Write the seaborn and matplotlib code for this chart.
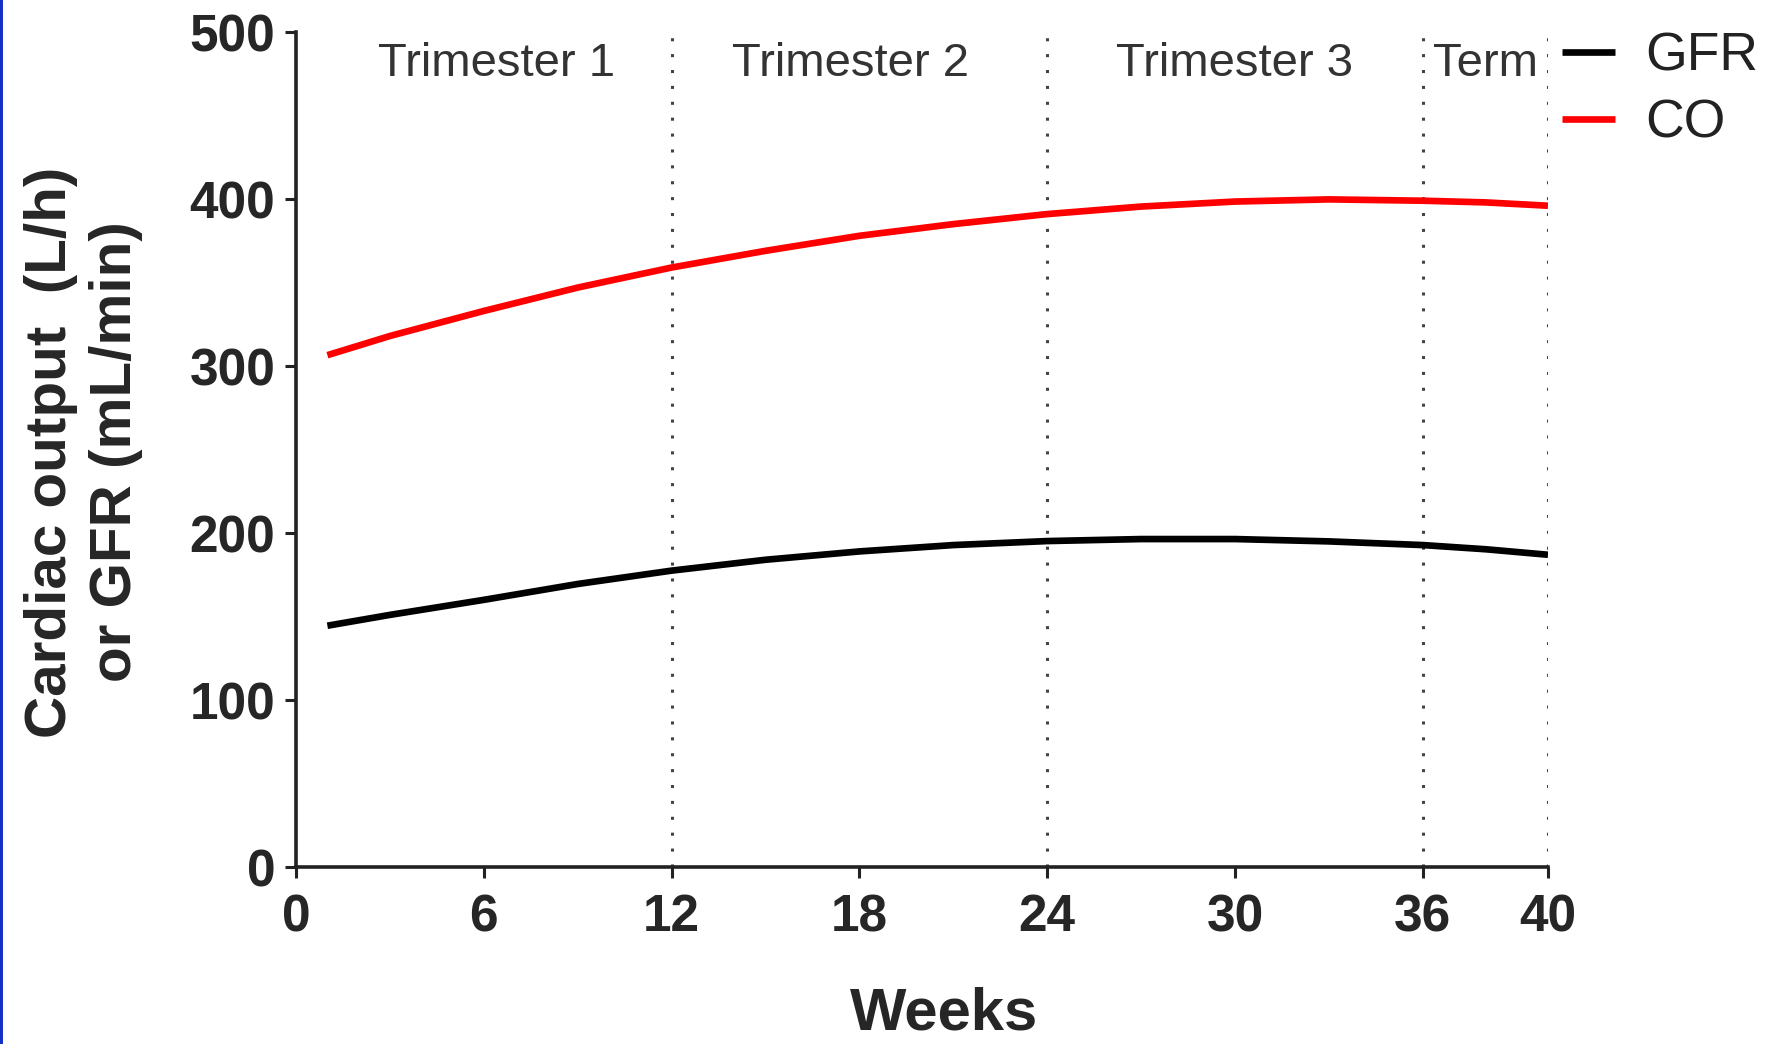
import matplotlib
matplotlib.use("Agg")
import matplotlib.pyplot as plt
import seaborn as sns
import pandas as pd
from matplotlib.patches import Rectangle

# ---- data ----
weeks = [1, 3, 6, 9, 12, 15, 18, 21, 24, 27, 30, 33, 36, 38, 40]
gfr = [144.5, 151, 160, 169.5, 177.5, 184, 189, 192.8, 195.2, 196.4, 196.4, 195, 192.8, 190.3, 187]
co = [306.5, 318, 333, 347, 359, 369, 378, 385, 391, 395.5, 398.5, 399.8, 399, 398, 396]
series_names = ["GFR", "CO"]
series_colors = ["#000000", "#ff0000"]
x_ticks = [0, 6, 12, 18, 24, 30, 36, 40]
y_ticks = [0, 100, 200, 300, 400, 500]
boundaries = [12, 24, 36, 40]
period_labels = ["Trimester 1", "Trimester 2", "Trimester 3", "Term"]
period_x = [6.4, 17.7, 30.0, 38.0]

df = pd.DataFrame({
    "Weeks": weeks * 2,
    "value": gfr + co,
    "series": [series_names[0]] * len(weeks) + [series_names[1]] * len(weeks),
})

sns.set_theme(style="ticks")
plt.rcParams["font.family"] = ["Liberation Sans", "DejaVu Sans"]

fig = plt.figure(figsize=(17.73, 10.44), dpi=100)
ax = fig.add_axes([0.1670, 0.1695, 0.8731 - 0.1670, 0.9693 - 0.1695])

sns.lineplot(data=df, x="Weeks", y="value", hue="series", hue_order=series_names,
             palette=dict(zip(series_names, series_colors)), linewidth=4.8,
             ax=ax, legend=True)
for ln in ax.get_lines():
    ln.set_solid_capstyle("butt")
    ln.set_solid_joinstyle("round")

for b in boundaries:
    ax.vlines(b, 0, 500, colors="#444444", linewidth=2.2,
              linestyles=(0, (1, 4.2)), zorder=1)

for lab, xp in zip(period_labels, period_x):
    ax.text(xp, 481, lab, ha="center", va="center", fontsize=34, color="#333333")

ax.set_xlim(0, 40)
ax.set_ylim(0, 500)
ax.set_xticks(x_ticks)
ax.set_yticks(y_ticks)
ax.set_xticklabels([str(t) for t in x_ticks], fontsize=37, fontweight="bold")
ax.set_yticklabels([str(t) for t in y_ticks], fontsize=37, fontweight="bold")
ax.tick_params(axis="both", direction="out", length=8, width=2.2, color="#222222")
ax.tick_params(axis="y", pad=7)
ax.tick_params(axis="x", pad=11)

for s in ["top", "right"]:
    ax.spines[s].set_visible(False)
for s in ["left", "bottom"]:
    ax.spines[s].set_linewidth(2.6)
    ax.spines[s].set_color("#222222")

ax.set_xlabel("Weeks", fontsize=43, fontweight="bold")
ax.xaxis.label.set_va("center")
ax.xaxis.set_label_coords(0.5176, -0.176)
ax.set_ylabel("Cardiac output  (L/h)\nor GFR (mL/min)", fontsize=42, fontweight="bold",
              linespacing=1.25)
ax.yaxis.label.set_va("center")
ax.yaxis.label.set_ha("center")
ax.yaxis.set_label_coords(-0.170, 0.497)

handles, labels = ax.get_legend_handles_labels()
ax.legend(handles, labels, loc="upper left", bbox_to_anchor=(0.881, 0.970),
          bbox_transform=fig.transFigure, frameon=False, fontsize=38.5,
          handlelength=1.0, handletextpad=0.55, labelspacing=0.32,
          borderpad=0, borderaxespad=0)
for lh in ax.get_legend().get_lines():
    lh.set_linewidth(4.8)
for t in ax.get_legend().get_texts():
    t.set_color("#222222")

fig.patches.append(Rectangle((0, 0), 3 / 1773, 1, transform=fig.transFigure,
                             facecolor="#1530c8", edgecolor="none", zorder=10))

fig.savefig("out.png", dpi=100)
